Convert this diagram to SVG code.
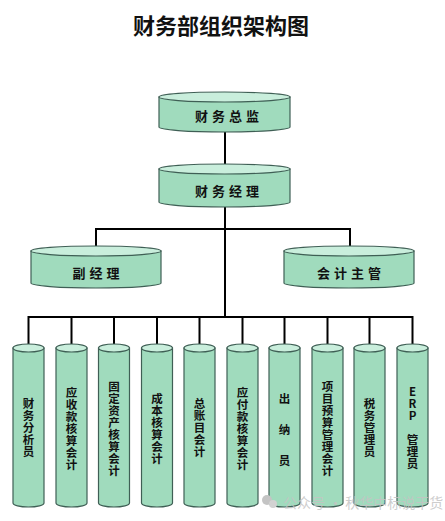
<svg xmlns="http://www.w3.org/2000/svg" width="445" height="521" viewBox="0 0 445 521">
<defs>
<style>
.body{fill:#a0dbbd;stroke:#3f5f55;stroke-width:1.2}
.top{fill:#c9eedc;stroke:#3f5f55;stroke-width:1.2}
.lbl{font-family:"Noto Sans CJK SC","Noto Sans",sans-serif;font-weight:bold;font-size:13px;fill:#111;text-anchor:middle;dominant-baseline:central;letter-spacing:4px}
.vl{font-family:"Noto Sans CJK SC","Noto Sans",sans-serif;font-weight:bold;font-size:11.5px;fill:#111;text-anchor:middle;dominant-baseline:central}
.ln{stroke:#000;stroke-width:2;fill:none}
.title{font-family:"Noto Sans CJK SC","Noto Sans",sans-serif;font-weight:bold;font-size:22px;fill:#111;text-anchor:middle;dominant-baseline:central}
.wm{font-family:"Noto Sans CJK SC","Noto Sans",sans-serif;font-size:14px;fill:#c4c4c4;fill-opacity:0.85;dominant-baseline:central}
</style>
</defs>
<rect width="445" height="521" fill="#fff"/>
<text class="title" x="221" y="24">财务部组织架构图</text>

<g id="connectors">
<path class="ln" d="M225 131 V165"/>
<path class="ln" d="M225 206 V318"/>
<path class="ln" d="M96 247 V229 H350 V247"/>
<path class="ln" d="M28.5 345 V317 H412.5 V345"/>
<path class="ln" d="M71.5 317 V345 M114 317 V345 M157 317 V345 M199.5 317 V345 M242.5 317 V345 M284.5 317 V345 M327.5 317 V345 M369.5 317 V345"/>
</g>

<g id="n-zongjian">
<path class="body" d="M159 97 V127 A65.5 5 0 0 0 290 127 V97 Z"/>
<ellipse class="top" cx="224.5" cy="97" rx="65.5" ry="5"/>
<text class="lbl" x="229" y="115">财务总监</text>
</g>
<g id="n-jingli">
<path class="body" d="M159 169 V202 A65.5 5 0 0 0 290 202 V169 Z"/>
<ellipse class="top" cx="224.5" cy="169" rx="65.5" ry="5"/>
<text class="lbl" x="229" y="190">财务经理</text>
</g>
<g id="n-fujingli">
<path class="body" d="M31 251 V283 A65 5 0 0 0 161 283 V251 Z"/>
<ellipse class="top" cx="96" cy="251" rx="65" ry="5"/>
<text class="lbl" x="98" y="272">副经理</text>
</g>
<g id="n-zhuguan">
<path class="body" d="M284 251 V283 A65 5 0 0 0 414 283 V251 Z"/>
<ellipse class="top" cx="349" cy="251" rx="65" ry="5"/>
<text class="lbl" x="351" y="272">会计主管</text>
</g>

<g id="c1">
<path class="body" d="M13 348 V503 A15.5 4 0 0 0 44 503 V348 Z"/>
<ellipse class="top" cx="28.5" cy="348" rx="15.5" ry="4"/>
<text class="vl"><tspan x="28.5" y="403">财</tspan><tspan x="28.5" y="415">务</tspan><tspan x="28.5" y="427">分</tspan><tspan x="28.5" y="439">析</tspan><tspan x="28.5" y="451">员</tspan></text>
</g>
<g id="c2">
<path class="body" d="M56 348 V503 A15.5 4 0 0 0 87 503 V348 Z"/>
<ellipse class="top" cx="71.5" cy="348" rx="15.5" ry="4"/>
<text class="vl"><tspan x="71.5" y="392">应</tspan><tspan x="71.5" y="404">收</tspan><tspan x="71.5" y="416">款</tspan><tspan x="71.5" y="428">核</tspan><tspan x="71.5" y="440">算</tspan><tspan x="71.5" y="452">会</tspan><tspan x="71.5" y="464">计</tspan></text>
</g>
<g id="c3">
<path class="body" d="M98.5 348 V503 A15.5 4 0 0 0 129.5 503 V348 Z"/>
<ellipse class="top" cx="114" cy="348" rx="15.5" ry="4"/>
<text class="vl"><tspan x="114" y="386">固</tspan><tspan x="114" y="398">定</tspan><tspan x="114" y="410">资</tspan><tspan x="114" y="422">产</tspan><tspan x="114" y="434">核</tspan><tspan x="114" y="446">算</tspan><tspan x="114" y="458">会</tspan><tspan x="114" y="470">计</tspan></text>
</g>
<g id="c4">
<path class="body" d="M141.5 348 V503 A15.5 4 0 0 0 172.5 503 V348 Z"/>
<ellipse class="top" cx="157" cy="348" rx="15.5" ry="4"/>
<text class="vl"><tspan x="157" y="398">成</tspan><tspan x="157" y="410">本</tspan><tspan x="157" y="422">核</tspan><tspan x="157" y="434">算</tspan><tspan x="157" y="446">会</tspan><tspan x="157" y="458">计</tspan></text>
</g>
<g id="c5">
<path class="body" d="M184 348 V503 A15.5 4 0 0 0 215 503 V348 Z"/>
<ellipse class="top" cx="199.5" cy="348" rx="15.5" ry="4"/>
<text class="vl"><tspan x="199.5" y="403">总</tspan><tspan x="199.5" y="415">账</tspan><tspan x="199.5" y="427">目</tspan><tspan x="199.5" y="439">会</tspan><tspan x="199.5" y="451">计</tspan></text>
</g>
<g id="c6">
<path class="body" d="M227 348 V503 A15.5 4 0 0 0 258 503 V348 Z"/>
<ellipse class="top" cx="242.5" cy="348" rx="15.5" ry="4"/>
<text class="vl"><tspan x="242.5" y="392">应</tspan><tspan x="242.5" y="404">付</tspan><tspan x="242.5" y="416">款</tspan><tspan x="242.5" y="428">核</tspan><tspan x="242.5" y="440">算</tspan><tspan x="242.5" y="452">会</tspan><tspan x="242.5" y="464">计</tspan></text>
</g>
<g id="c7">
<path class="body" d="M269 348 V503 A15.5 4 0 0 0 300 503 V348 Z"/>
<ellipse class="top" cx="284.5" cy="348" rx="15.5" ry="4"/>
<text class="vl"><tspan x="284.5" y="398">出</tspan><tspan x="284.5" y="429">纳</tspan><tspan x="284.5" y="460">员</tspan></text>
</g>
<g id="c8">
<path class="body" d="M312 348 V503 A15.5 4 0 0 0 343 503 V348 Z"/>
<ellipse class="top" cx="327.5" cy="348" rx="15.5" ry="4"/>
<text class="vl"><tspan x="327.5" y="386">项</tspan><tspan x="327.5" y="398">目</tspan><tspan x="327.5" y="410">预</tspan><tspan x="327.5" y="422">算</tspan><tspan x="327.5" y="434">管</tspan><tspan x="327.5" y="446">理</tspan><tspan x="327.5" y="458">会</tspan><tspan x="327.5" y="470">计</tspan></text>
</g>
<g id="c9">
<path class="body" d="M354 348 V503 A15.5 4 0 0 0 385 503 V348 Z"/>
<ellipse class="top" cx="369.5" cy="348" rx="15.5" ry="4"/>
<text class="vl"><tspan x="369.5" y="403">税</tspan><tspan x="369.5" y="415">务</tspan><tspan x="369.5" y="427">管</tspan><tspan x="369.5" y="439">理</tspan><tspan x="369.5" y="451">员</tspan></text>
</g>
<g id="c10">
<path class="body" d="M397 348 V503 A15.5 4 0 0 0 428 503 V348 Z"/>
<ellipse class="top" cx="412.5" cy="348" rx="15.5" ry="4"/>
<text class="vl"><tspan x="412.5" y="391">E</tspan><tspan x="412.5" y="403">R</tspan><tspan x="412.5" y="415">P</tspan><tspan x="412.5" y="439">管</tspan><tspan x="412.5" y="451">理</tspan><tspan x="412.5" y="463">员</tspan></text>
</g>

<g id="watermark">
<circle cx="267" cy="500" r="5" fill="#c4c4c4"/>
<circle cx="273" cy="504" r="4" fill="#d2d2d2"/>
<text class="wm" x="283" y="502">公众号 · 秋华中标说干货</text>
</g>
</svg>
